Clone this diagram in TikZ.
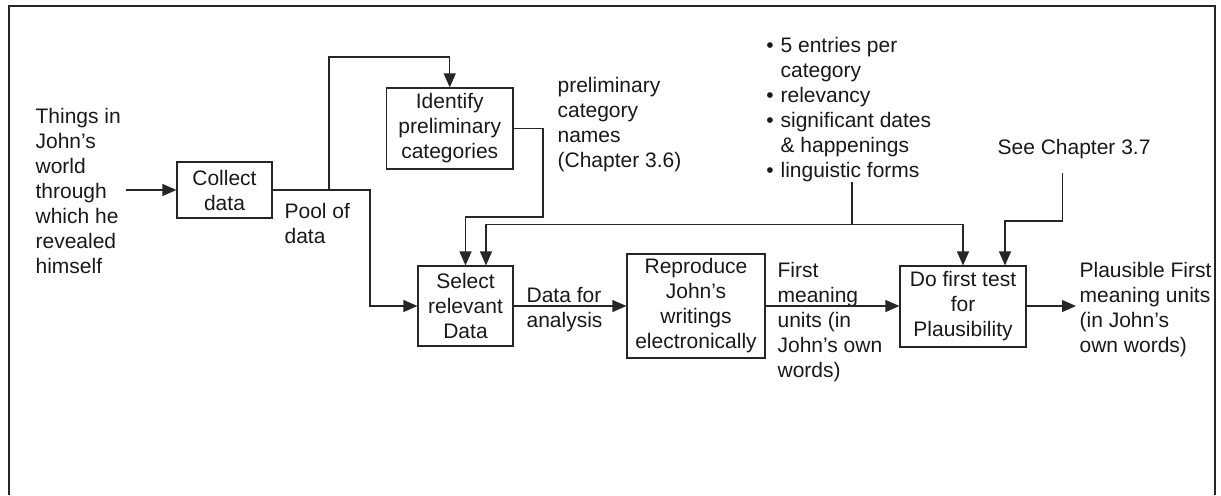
\documentclass[tikz,border=0pt]{standalone}
\usepackage{fontspec}
\setmainfont{Liberation Sans}
\usetikzlibrary{arrows.meta}
\begin{document}
\begin{tikzpicture}[x=0.5pt,y=-0.5pt, line width=0.6pt, draw={black!85},
  every node/.style={font=\fontsize{10.5pt}{12.5pt}\selectfont, text=black!90},
  box/.style={draw, align=center, inner sep=0pt},
  lbl/.style={align=left, anchor=north west, inner sep=0pt},
  arr/.style={-{Triangle[length=7pt,width=6pt]}}]
\useasboundingbox (0,0) rectangle (1221,495);
\draw (9,495) -- (9,6) -- (1215,6) -- (1215,495);

% boxes
\node[box, minimum width=47.5pt, minimum height=28pt] (collect) at (224.5,190) {Collect\\data};
\node[box, minimum width=63.25pt, minimum height=40.5pt] (identify) at (449.75,128.5) {Identify\\preliminary\\categories};
\node[box, minimum width=47.5pt, minimum height=40pt] (select) at (465.5,306) {Select\\relevant\\Data};
\node[box, minimum width=69pt, minimum height=52pt] (reproduce) at (696,306) {Reproduce\\John’s\\writings\\electronically};
\node[box, minimum width=63pt, minimum height=40.5pt] (dotest) at (963,306.5) {Do first test\\for\\Plausibility};

% labels
\node[lbl] (things) at (35,107.5) {Things in\\John’s\\world\\through\\which he\\revealed\\himself};
\node[lbl] (pool) at (284,203) {Pool of\\data};
\node[lbl] (prelim) at (557,77) {preliminary\\category\\names\\(Chapter 3.6)};
\node[lbl] (bullets) at (780,36.7) {\llap{•\hspace{3.5pt}}5 entries per\\category\\\llap{•\hspace{3.5pt}}relevancy\\\llap{•\hspace{3.5pt}}significant dates\\\& happenings\\\llap{•\hspace{3.5pt}}linguistic forms};
\node[lbl] (see) at (997,139) {See Chapter 3.7};
\node[lbl] (datafor) at (526,286.5) {Data for\\analysis};
\node[lbl] (first) at (777,262) {First\\meaning\\units (in\\John’s own\\words)};
\node[lbl] (plaus) at (1079,262) {Plausible First\\meaning units\\(in John’s\\own words)};

% coordinates
\coordinate (thingsend) at (126,190);
\coordinate (j1) at (329,190);
\coordinate (j1top) at (449.75,57);
\coordinate (j2) at (370,190);
\coordinate (ib) at (543,217);
\coordinate (bstem) at (852,182);
\coordinate (bj) at (852,224.5);
\coordinate (b2) at (486,224.5);
\coordinate (seestem) at (1062.5,173);
\coordinate (s2) at (1005,221);
\coordinate (outend) at (1076,306.5);

% connectors
\draw[arr] (thingsend) -- (collect.west);
\draw (collect.east) -- (j1);
\draw[arr] (j1) |- (j1top) -- (identify.north);
\draw[arr] (j1) -- (j2) |- (select.west);
\draw[arr] (identify.east) -| (ib) -| (select.north);
\draw[arr] (bstem) -- (bj) -- (b2) -- (select.north -| b2);
\draw[arr] (bj) -| (dotest.north);
\draw[arr] (seestem) |- (s2) -- (dotest.north -| s2);
\draw[arr] (select.east) -- (reproduce.west |- select.east);
\draw[arr] (reproduce.east |- select.east) -- (dotest.west |- select.east);
\draw[arr] (dotest.east |- select.east) -- (outend |- select.east);
\end{tikzpicture}
\end{document}
